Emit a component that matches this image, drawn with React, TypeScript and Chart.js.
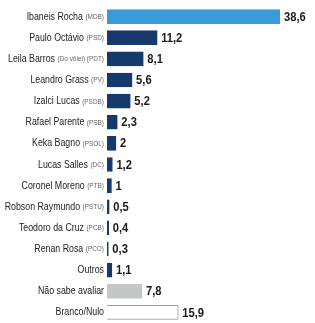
import React, { useEffect, useRef } from "react";
import { Chart, registerables } from "chart.js";

Chart.register(...registerables);

const names = [
  "Ibaneis Rocha", "Paulo Octávio", "Leila Barros", "Leandro Grass", "Izalci Lucas",
  "Rafael Parente", "Keka Bagno", "Lucas Salles", "Coronel Moreno", "Robson Raymundo",
  "Teodoro da Cruz", "Renan Rosa", "Outros", "Não sabe avaliar", "Branco/Nulo",
];
const parties = [
  "(MDB)", "(PSD)", "(Do vôlei) (PDT)", "(PV)", "(PSDB)",
  "(PSB)", "(PSOL)", "(DC)", "(PTB)", "(PSTU)",
  "(PCB)", "(PCO)", "", "", "",
];
const values = [38.6, 11.2, 8.1, 5.6, 5.2, 2.3, 2, 1.2, 1, 0.5, 0.4, 0.3, 1.1, 7.8, 15.9];
const fills = [
  "#3a9ad9", "#163a6b", "#163a6b", "#163a6b", "#163a6b",
  "#163a6b", "#163a6b", "#163a6b", "#163a6b", "#163a6b",
  "#163a6b", "#163a6b", "#163a6b", "#c4c6c8", "#ffffff",
];
const borders = fills.map((c, i) => (i === 14 ? "#9a9a9a" : c));

const FONT = "'Liberation Sans', Arial, sans-serif";

function drawNarrow(ctx: any, text: string, x: number, y: number, sx: number, align: "left" | "right") {
  const w = ctx.measureText(text).width * sx;
  ctx.save();
  ctx.translate(align === "right" ? x - w : x, y);
  ctx.scale(sx, 1);
  ctx.textAlign = "left";
  ctx.fillText(text, 0, 0);
  ctx.restore();
  return w;
}

const labelPlugin = {
  id: "labels",
  afterDatasetsDraw(chart: any) {
    const ctx = chart.ctx;
    const y = chart.scales.y;
    const meta = chart.getDatasetMeta(0);
    ctx.save();
    ctx.textBaseline = "middle";
    names.forEach((n, i) => {
      const py = y.getPixelForValue(i);
      let x = 104;
      if (parties[i]) {
        ctx.font = `7px ${FONT}`;
        ctx.fillStyle = "#666";
        const w = drawNarrow(ctx, parties[i], x, py + 0.5, 0.92, "right");
        x -= w + 2.5;
      }
      ctx.font = `500 11px ${FONT}`;
      ctx.fillStyle = "#222";
      drawNarrow(ctx, n, x, py, 0.8, "right");
      const bar = meta.data[i];
      ctx.font = `bold 13px ${FONT}`;
      ctx.fillStyle = "#1a1a1a";
      drawNarrow(ctx, String(values[i]).replace(".", ","), bar.x + 4, py + 0.5, 0.86, "left");
    });
    ctx.restore();
  },
};

export default function App() {
  const ref = useRef<HTMLCanvasElement>(null);
  useEffect(() => {
    document.body.style.margin = "0";
    const chart = new Chart(ref.current!, {
      type: "bar",
      data: {
        labels: names,
        datasets: [
          {
            data: values,
            backgroundColor: fills,
            borderColor: borders,
            borderWidth: 1,
            barThickness: 14,
          },
        ],
      },
      options: {
        indexAxis: "y",
        animation: false,
        responsive: false,
        layout: { padding: { left: 107, right: 35, top: 6, bottom: 0 } },
        plugins: { legend: { display: false }, tooltip: { enabled: false } },
        scales: {
          x: { display: false, min: 0, max: 38.6 },
          y: { display: false },
        },
      },
      plugins: [labelPlugin],
    });
    return () => chart.destroy();
  }, []);
  return <canvas ref={ref} width={315} height={323} style={{ display: "block" }} />;
}
